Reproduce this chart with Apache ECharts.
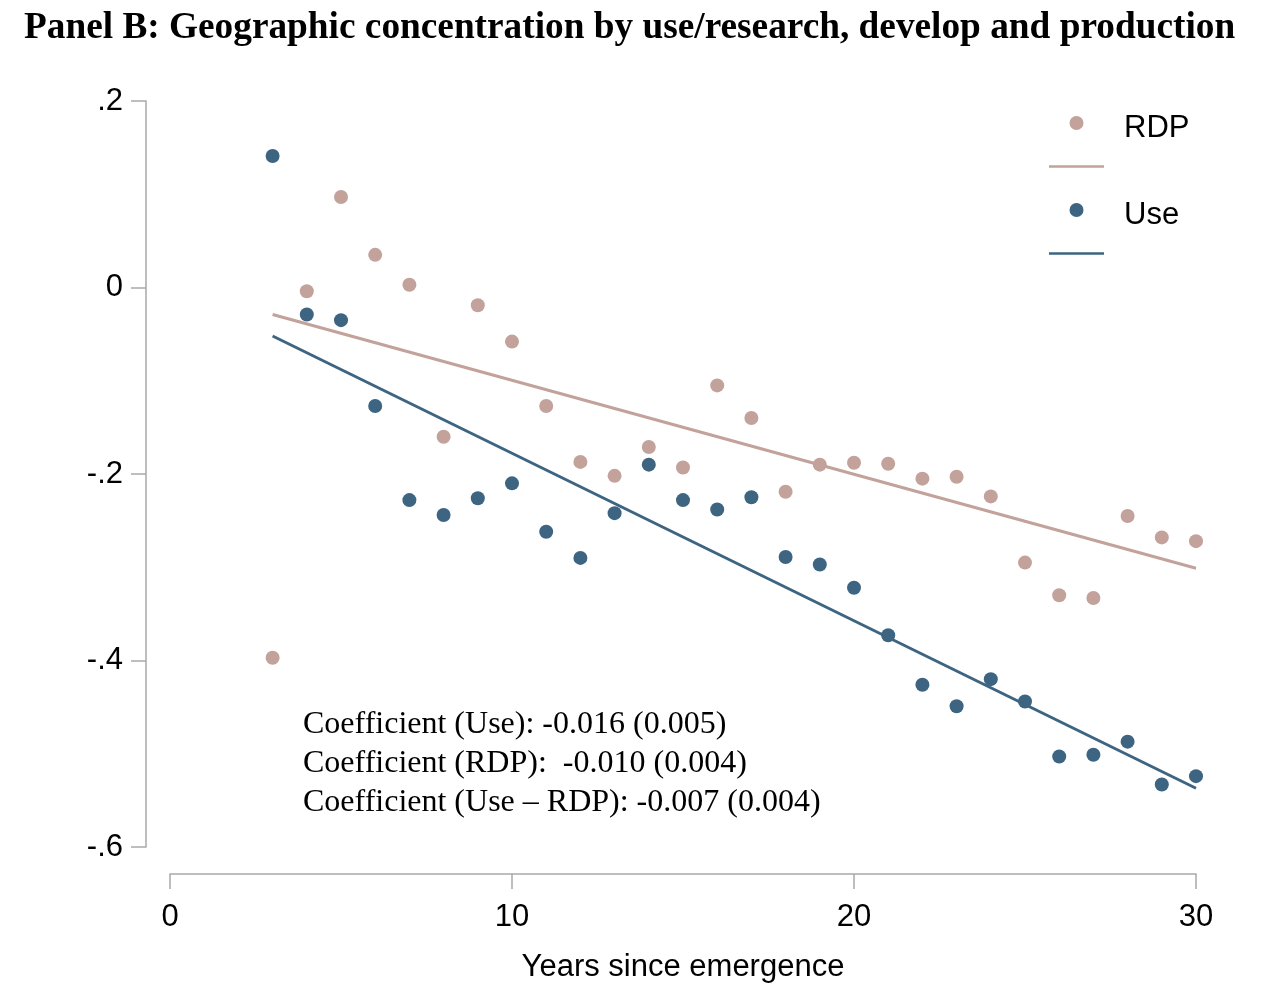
<!DOCTYPE html>
<html>
<head>
<meta charset="utf-8">
<script src="https://cdn.jsdelivr.net/npm/echarts@6/dist/echarts.min.js"></script>
<style>html,body{margin:0;padding:0;background:#fff;}#c{width:1270px;height:988px;}</style>
</head>
<body>
<div id="c"></div>
<script>
const years = [3,4,5,6,7,8,9,10,11,12,13,14,15,16,17,18,19,20,21,22,23,24,25,26,27,28,29,30];
const useVals = [0.141,-0.029,-0.035,-0.127,-0.228,-0.244,-0.226,-0.210,-0.262,-0.290,-0.242,-0.190,-0.228,-0.238,-0.225,-0.289,-0.297,-0.322,-0.373,-0.426,-0.449,-0.420,-0.444,-0.503,-0.501,-0.487,-0.533,-0.524];
const rdpVals = [-0.397,-0.004,0.097,0.035,0.003,-0.160,-0.019,-0.058,-0.127,-0.187,-0.202,-0.171,-0.193,-0.105,-0.140,-0.219,-0.190,-0.188,-0.189,-0.205,-0.203,-0.224,-0.295,-0.330,-0.333,-0.245,-0.268,-0.272];
const fitX = [3, 30];
const useFit = [-0.052, -0.537];
const rdpFit = [-0.029, -0.301];
const yTicks = [-0.6, -0.4, -0.2, 0, 0.2];
const xTicks = [0, 10, 20, 30];
const coefLines = [
  'Coefficient (Use): -0.016 (0.005)',
  'Coefficient (RDP):  -0.010 (0.004)',
  'Coefficient (Use \u2013 RDP): -0.007 (0.004)'
];
const titleText = 'Panel B: Geographic concentration by use/research, develop and production';

const USE_C = '#3d6480';
const RDP_C = '#c2a29a';
const AX_C = '#a9a9a9';
const SANS = '"Liberation Sans", Arial, sans-serif';
const SERIF = '"Liberation Serif", "Times New Roman", serif';
const LINE_ICON = 'path://M0,0L55,0L55,2.6L0,2.6Z';

function fmtY(v){
  const r = Math.round(v*10)/10;
  if (r === 0) return '0';
  const s = r.toFixed(1);
  return s.replace('0.', '.');
}
const pair = (xs, ys) => xs.map((x,i)=>[x, ys[i]]);

const chart = echarts.init(document.getElementById('c'), null, {renderer:'canvas'});
chart.setOption({
  backgroundColor:'#fff',
  animation:false,
  title:{
    text:titleText, left:19, top:5,
    textStyle:{fontFamily:SERIF, fontWeight:'bold', fontSize:37.3, color:'#000'}
  },
  grid:{left:170, right:74, top:101, bottom:137, containLabel:false},
  xAxis:{
    type:'value', min:0, max:30, interval:10, offset:27,
    name:'Years since emergence', nameLocation:'middle', nameGap:78,
    nameTextStyle:{fontFamily:SANS, fontSize:31, color:'#000'},
    axisLine:{show:true, onZero:false, lineStyle:{color:AX_C, width:1.5}},
    axisTick:{show:true, length:15, lineStyle:{color:AX_C, width:1.5}},
    axisLabel:{fontFamily:SANS, fontSize:31, color:'#000', margin:28},
    splitLine:{show:false}
  },
  yAxis:{
    type:'value', min:-0.6, max:0.2, interval:0.2, offset:24,
    axisLine:{show:true, onZero:false, lineStyle:{color:AX_C, width:1.5}},
    axisTick:{show:true, length:15, lineStyle:{color:AX_C, width:1.5}},
    axisLabel:{fontFamily:SANS, fontSize:31, color:'#000', margin:23, formatter:fmtY},
    splitLine:{show:false}
  },
  legend:{
    orient:'vertical', left:1049, top:100, padding:0, itemGap:0,
    itemWidth:55, itemHeight:14, symbolKeepAspect:true,
    data:[{name:'RDP', icon:'circle'}, {name:'RDP fit', icon:LINE_ICON}, {name:'Use', icon:'circle'}, {name:'Use fit', icon:LINE_ICON}],
    formatter:function(n){ return '{s| }\n{t|' + (/fit$/.test(n) ? ' ' : n) + '}'; },
    textStyle:{
      fontFamily:SANS, fontSize:31, color:'#000', padding:[0,0,0,15],
      rich:{
        s:{fontSize:10, lineHeight:10},
        t:{fontFamily:SANS, fontSize:31, color:'#000', lineHeight:36}
      }
    },
    selectedMode:false
  },
  graphic:[{
    type:'text', left:303, top:705,
    style:{text:coefLines.join('\n'), font:'32px ' + SERIF, fill:'#000', lineHeight:39}
  }],
  series:[
    {name:'RDP', type:'scatter', data:pair(years, rdpVals), symbol:'circle', symbolSize:14, itemStyle:{color:RDP_C, opacity:1}, z:3},
    {name:'RDP fit', type:'line', data:pair(fitX, rdpFit), symbol:'none', lineStyle:{color:RDP_C, width:3}, itemStyle:{color:RDP_C}, z:2},
    {name:'Use', type:'scatter', data:pair(years, useVals), symbol:'circle', symbolSize:14, itemStyle:{color:USE_C, opacity:1}, z:3},
    {name:'Use fit', type:'line', data:pair(fitX, useFit), symbol:'none', lineStyle:{color:USE_C, width:3}, itemStyle:{color:USE_C}, z:2}
  ]
});
</script>
</body>
</html>
